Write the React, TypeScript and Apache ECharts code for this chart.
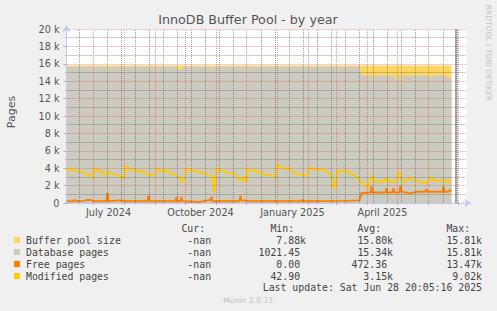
import React, { useEffect, useRef } from 'react';
import * as echarts from 'echarts';

// ---------- data ----------
const START_DATE = '2024-06-04';
const DAY_COUNT = 401;
const NOW_DATE = '2025-06-28';
const MINOR_GRID_DATES = [
  '2024-06-17', '2024-07-15', '2024-07-29', '2024-08-12', '2024-08-26', '2024-09-09', '2024-09-23',
  '2024-10-07', '2024-10-21', '2024-11-04', '2024-11-18', '2024-12-16', '2024-12-30', '2025-01-13',
  '2025-01-27', '2025-02-10', '2025-02-24', '2025-03-10', '2025-03-24', '2025-04-07', '2025-04-21',
  '2025-05-05', '2025-05-19', '2025-06-16', '2025-06-30',
];
const LABEL_MONTHS = [1, 4, 7, 10];
const LABEL_DAY = 16;
const MONTH_NAMES = ['January', 'February', 'March', 'April', 'May', 'June', 'July', 'August', 'September', 'October', 'November', 'December'];

const SERIES_NAMES = ['Buffer pool size', 'Database pages', 'Free pages', 'Modified pages'];
const SERIES_COLORS = ['#ffd660', '#cbcbbf', '#ff7f00', '#ffcc00'];

const bufferPoolSize: [string, number][] = [['2024-06-04', 15810], ['2025-06-24', 15810]];

const databasePages: [string, number][] = [
  ['2024-06-04', 15650], ['2024-07-14', 15650], ['2024-07-15', 15000], ['2024-07-16', 15650],
  ['2024-08-25', 15650], ['2024-08-26', 15300], ['2024-08-27', 15650], ['2024-09-22', 15650],
  ['2024-09-23', 15350], ['2024-09-28', 15350], ['2024-09-29', 15650], ['2024-10-27', 15650],
  ['2024-10-28', 15200], ['2024-10-29', 15650], ['2025-03-24', 15650], ['2025-03-26', 14650],
  ['2025-04-05', 14650], ['2025-04-06', 13600], ['2025-04-07', 14650], ['2025-04-19', 14650],
  ['2025-04-20', 14300], ['2025-04-21', 14650], ['2025-04-27', 14650], ['2025-04-28', 14200],
  ['2025-04-30', 14200], ['2025-05-01', 14650], ['2025-05-04', 14650], ['2025-05-05', 13000],
  ['2025-05-06', 14650], ['2025-05-12', 14650], ['2025-05-13', 14500], ['2025-05-14', 14650],
  ['2025-06-03', 14650], ['2025-06-04', 14200], ['2025-06-05', 14650], ['2025-06-16', 14650],
  ['2025-06-17', 14200], ['2025-06-18', 14650], ['2025-06-22', 14300], ['2025-06-24', 14600],
];

const freePages: [string, number][] = [
  ['2024-06-04', 200], ['2024-06-11', 200], ['2024-06-12', 350], ['2024-06-14', 200],
  ['2024-06-22', 250], ['2024-06-25', 350], ['2024-06-29', 350], ['2024-06-30', 200],
  ['2024-07-14', 200], ['2024-07-15', 1150], ['2024-07-16', 200], ['2024-07-29', 300],
  ['2024-08-01', 200], ['2024-08-24', 200], ['2024-08-25', 850], ['2024-08-26', 400],
  ['2024-08-27', 200], ['2024-09-21', 200], ['2024-09-22', 700], ['2024-09-23', 200],
  ['2024-09-26', 200], ['2024-09-27', 700], ['2024-09-28', 200], ['2024-10-15', 120],
  ['2024-10-23', 300], ['2024-10-26', 350], ['2024-10-27', 700], ['2024-10-28', 200],
  ['2024-11-24', 200], ['2024-11-25', 850], ['2024-11-26', 300], ['2024-12-04', 200],
  ['2025-01-25', 200], ['2025-01-26', 400], ['2025-01-27', 200], ['2025-03-14', 250],
  ['2025-03-24', 300], ['2025-03-26', 1150], ['2025-04-04', 1200], ['2025-04-05', 1900],
  ['2025-04-06', 1200], ['2025-04-19', 1200], ['2025-04-20', 1700], ['2025-04-21', 1200],
  ['2025-04-26', 1200], ['2025-04-27', 1700], ['2025-04-28', 1200], ['2025-05-03', 1200],
  ['2025-05-04', 2000], ['2025-05-05', 1300], ['2025-05-13', 1100], ['2025-05-21', 1300],
  ['2025-05-29', 1300], ['2025-05-30', 1600], ['2025-05-31', 1300], ['2025-06-15', 1300],
  ['2025-06-16', 1900], ['2025-06-17', 1300], ['2025-06-21', 1300], ['2025-06-22', 1500],
  ['2025-06-24', 1400],
];

const modifiedPages: [string, number][] = [
  ['2024-06-04', 3400], ['2024-06-06', 4000], ['2024-06-09', 3800], ['2024-06-15', 3700],
  ['2024-06-22', 3500], ['2024-06-27', 3200], ['2024-07-01', 2900], ['2024-07-02', 4000],
  ['2024-07-05', 3700], ['2024-07-07', 3800], ['2024-07-10', 3500], ['2024-07-13', 3100],
  ['2024-07-15', 3600], ['2024-07-22', 3300], ['2024-07-27', 3100], ['2024-08-01', 2900],
  ['2024-08-02', 4250], ['2024-08-04', 4100], ['2024-08-08', 3700], ['2024-08-12', 3800],
  ['2024-08-16', 3500], ['2024-08-19', 3700], ['2024-08-23', 3300], ['2024-08-28', 3200],
  ['2024-08-31', 3100], ['2024-09-02', 4000], ['2024-09-05', 3800], ['2024-09-08', 3600],
  ['2024-09-12', 3800], ['2024-09-15', 3400], ['2024-09-20', 3300], ['2024-09-25', 2900],
  ['2024-09-28', 2400], ['2024-09-30', 2800], ['2024-10-02', 4000], ['2024-10-05', 3800],
  ['2024-10-10', 3700], ['2024-10-15', 3500], ['2024-10-20', 3400], ['2024-10-25', 3100],
  ['2024-10-28', 3000], ['2024-10-30', 1200], ['2024-11-01', 4000], ['2024-11-04', 3800],
  ['2024-11-09', 3600], ['2024-11-14', 3400], ['2024-11-19', 3300], ['2024-11-22', 3000],
  ['2024-11-25', 2500], ['2024-11-28', 3000], ['2024-12-01', 2400], ['2024-12-02', 4000],
  ['2024-12-06', 3700], ['2024-12-12', 3600], ['2024-12-17', 3300], ['2024-12-24', 3200],
  ['2024-12-30', 3000], ['2025-01-01', 4500], ['2025-01-04', 4200], ['2025-01-08', 3900],
  ['2025-01-13', 4000], ['2025-01-16', 3600], ['2025-01-20', 3300], ['2025-01-26', 3200],
  ['2025-01-30', 3100], ['2025-02-02', 4050], ['2025-02-05', 3900], ['2025-02-10', 3800],
  ['2025-02-15', 3900], ['2025-02-19', 3600], ['2025-02-22', 3400], ['2025-02-25', 2800],
  ['2025-02-27', 1600], ['2025-03-01', 2400], ['2025-03-02', 3700], ['2025-03-06', 3600],
  ['2025-03-10', 3700], ['2025-03-14', 3400], ['2025-03-19', 3200], ['2025-03-22', 2900],
  ['2025-03-25', 2400], ['2025-03-29', 2300], ['2025-03-31', 2000], ['2025-04-01', 1700],
  ['2025-04-03', 2400], ['2025-04-06', 3200], ['2025-04-08', 2400], ['2025-04-13', 2500],
  ['2025-04-17', 2400], ['2025-04-19', 2900], ['2025-04-21', 2400], ['2025-04-25', 2500],
  ['2025-04-29', 2400], ['2025-05-03', 3600], ['2025-05-05', 2500], ['2025-05-09', 2400],
  ['2025-05-13', 3000], ['2025-05-16', 2700], ['2025-05-21', 2500], ['2025-05-26', 2400],
  ['2025-05-31', 2300], ['2025-06-04', 3100], ['2025-06-06', 2600], ['2025-06-10', 2500],
  ['2025-06-14', 2700], ['2025-06-17', 2400], ['2025-06-20', 2600], ['2025-06-24', 2300],
];

const Y_MIN = 0;
const Y_MAX = 20000;
const Y_INTERVAL = 2000;

const STAT_HEADERS = ['Cur:', 'Min:', 'Avg:', 'Max:'];
const STAT_CUR = ['-nan', '-nan', '-nan', '-nan'];
const STAT_MIN = ['7.88k', '1021.45', '0.00', '42.90'];
const STAT_AVG = ['15.80k', '15.34k', '472.36', '3.15k'];
const STAT_MAX = ['15.81k', '15.81k', '13.47k', '9.02k'];
const LAST_UPDATE = 'Last update: Sat Jun 28 20:05:16 2025';
const TITLE = 'InnoDB Buffer Pool - by year';
const Y_NAME = 'Pages';
const SIDE_TEXT = 'RRDTOOL / TOBI OETIKER';
const FOOTER = 'Munin 2.0.73';

// ---------- helpers ----------
function buildDates(start: string, n: number): string[] {
  const [y, m, d] = start.split('-').map(Number);
  const out: string[] = [];
  for (let i = 0; i < n; i++) {
    out.push(new Date(Date.UTC(y, m - 1, d + i)).toISOString().slice(0, 10));
  }
  return out;
}

const MONO = '"DejaVu Sans Mono", monospace';
const SANS = '"DejaVu Sans", sans-serif';

export default function App() {
  const ref = useRef<HTMLDivElement>(null);

  useEffect(() => {
    document.body.style.margin = '0';
    if (!ref.current) return;
    const chart = echarts.init(ref.current, undefined, { renderer: 'svg' });

    const dates = buildDates(START_DATE, DAY_COUNT);
    const isMonthStart = (i: number) => dates[i] !== undefined && dates[i].slice(8, 10) === '01';
    const isLabel = (i: number) => {
      const v = dates[i];
      if (!v) return false;
      return Number(v.slice(8, 10)) === LABEL_DAY && LABEL_MONTHS.includes(Number(v.slice(5, 7)));
    };

    const majorColor = 'rgba(230,60,60,0.5)';
    const minorColor = 'rgba(70,70,70,0.5)';
    const axisColor = '#c2c6f0';

    const majorLines = dates.filter((_, i) => isMonthStart(i)).map((d) => ({ xAxis: d }));
    const minorLines = MINOR_GRID_DATES.filter((d) => dates.includes(d)).map((d) => ({ xAxis: d }));

    const charW = 9.85 * 0.602;
    const colRights = [217, 306, 393, 482];
    const rowYs = [240, 252, 264, 276];
    const headerY = 228;

    const graphic: any[] = [];
    const txt = (text: string, x: number, y: number, font: string, fill: string, align: string, rotation = 0) => ({
      type: 'text', x, y, rotation, silent: true,
      style: { text, font, fill, align, verticalAlign: 'middle', textAlign: align, textVerticalAlign: 'middle' },
    });

    graphic.push(txt(TITLE, 248, 19.5, `12.7px ${SANS}`, '#555', 'center'));
    graphic.push(txt(Y_NAME, 11, 112, `11px ${SANS}`, '#555', 'center', Math.PI / 2));
    graphic.push(txt(SIDE_TEXT, 488.5, 53, `7.5px ${SANS}`, '#c4c4c4', 'center', -Math.PI / 2));

    STAT_HEADERS.forEach((h, c) => {
      graphic.push(txt(h, colRights[c] - 2 * charW, headerY, `9.85px ${MONO}`, '#444', 'right'));
    });
    const cols = [STAT_CUR, STAT_MIN, STAT_AVG, STAT_MAX];
    SERIES_NAMES.forEach((name, r) => {
      const y = rowYs[r];
      graphic.push({ type: 'rect', shape: { x: 14, y: y - 3, width: 6, height: 6 }, style: { fill: SERIES_COLORS[r] }, silent: true });
      graphic.push(txt(name, 26, y, `9.85px ${MONO}`, '#444', 'left'));
      cols.forEach((col, c) => {
        const v = col[r];
        const right = v.endsWith('k') ? colRights[c] : colRights[c] - charW;
        graphic.push(txt(v, right, y, `9.85px ${MONO}`, '#444', 'right'));
      });
    });
    graphic.push(txt(LAST_UPDATE, 482, 287.5, `9.85px ${MONO}`, '#444', 'right'));
    graphic.push(txt(FOOTER, 248, 300, `7.6px ${SANS}`, '#c0c0c0', 'center'));

    const option: any = {
      animation: false,
      backgroundColor: '#f0f0f0',
      textStyle: { fontFamily: SANS },
      grid: {
        left: 66.5, top: 29, width: 400, height: 174,
        show: true, backgroundColor: '#ffffff', borderWidth: 0,
        containLabel: false, outerBoundsMode: 'none',
      },
      xAxis: {
        type: 'category', data: dates, boundaryGap: false, z: 6,
        axisLine: {
          show: true, onZero: false, lineStyle: { color: axisColor, width: 1 },
          symbol: ['none', 'arrow'], symbolSize: [6, 7], symbolOffset: [0, 5],
        },
        axisTick: { show: true, interval: (i: number) => isMonthStart(i), length: 2, lineStyle: { color: '#b0b0b0' } },
        axisLabel: {
          show: true, interval: (i: number) => isLabel(i), color: '#555', fontSize: 9.7, margin: 4, fontFamily: SANS,
          formatter: (v: string) => `${MONTH_NAMES[Number(v.slice(5, 7)) - 1]} ${v.slice(0, 4)}`,
        },
        splitLine: { show: false },
      },
      yAxis: {
        type: 'value', min: Y_MIN, max: Y_MAX, interval: Y_INTERVAL, z: 6,
        axisLine: {
          show: true, onZero: false, lineStyle: { color: axisColor, width: 1 },
          symbol: ['none', 'arrow'], symbolSize: [6, 7], symbolOffset: [0, 4],
        },
        axisTick: { show: true, length: 3, lineStyle: { color: '#b0b0b0' } },
        minorTick: { show: true, splitNumber: 2, length: 2, lineStyle: { color: '#c8c8c8' } },
        axisLabel: {
          color: '#555', fontSize: 9.7, margin: 7, fontFamily: SANS,
          formatter: (v: number) => (v === 0 ? '0' : `${v / 1000} k`),
        },
        splitLine: { show: true, lineStyle: { color: majorColor, width: 1, type: 'dotted' } },
        minorSplitLine: { show: true, lineStyle: { color: minorColor, width: 1, type: 'dotted' } },
      },
      series: [
        {
          name: SERIES_NAMES[0], type: 'line', data: bufferPoolSize, symbol: 'none', showSymbol: false, z: 1,
          lineStyle: { width: 0 }, areaStyle: { color: SERIES_COLORS[0], opacity: 1 },
          markLine: {
            silent: true, symbol: ['none', 'none'], label: { show: false }, z: 5,
            lineStyle: { color: minorColor, width: 1, type: 'dotted' },
            data: minorLines,
          },
        },
        {
          name: SERIES_NAMES[1], type: 'line', data: databasePages, symbol: 'none', showSymbol: false, z: 2,
          lineStyle: { width: 0 }, areaStyle: { color: SERIES_COLORS[1], opacity: 1 },
          markLine: {
            silent: true, symbol: ['none', 'none'], label: { show: false }, z: 7,
            lineStyle: { color: '#858585', width: 1.5, type: 'solid' },
            data: [{ xAxis: NOW_DATE }],
          },
        },
        {
          name: SERIES_NAMES[2], type: 'line', data: freePages, symbol: 'none', showSymbol: false, z: 3,
          lineStyle: { width: 1.9, color: SERIES_COLORS[2] },
        },
        {
          name: SERIES_NAMES[3], type: 'line', data: modifiedPages, symbol: 'none', showSymbol: false, z: 3,
          lineStyle: { width: 1.9, color: SERIES_COLORS[3] },
          markLine: {
            silent: true, symbol: ['none', 'none'], label: { show: false }, z: 6,
            lineStyle: { color: majorColor, width: 1, type: 'dotted' },
            data: majorLines,
          },
        },
      ],
      graphic,
    };

    chart.setOption(option);
    return () => chart.dispose();
  }, []);

  return <div ref={ref} style={{ width: 497, height: 311 }} />;
}
